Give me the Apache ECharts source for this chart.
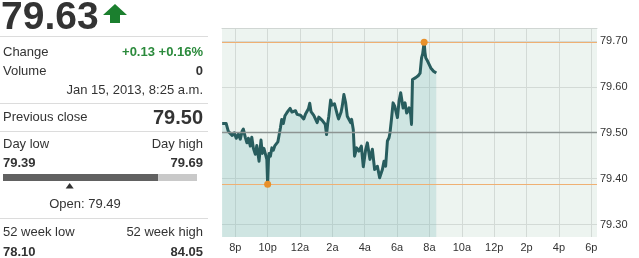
<!DOCTYPE html>
<html><head><meta charset="utf-8">
<script src="https://cdn.jsdelivr.net/npm/echarts@6/dist/echarts.min.js"></script>
<style>html,body{margin:0;padding:0;background:#fff;}#c{width:639px;height:258px;}</style>
</head><body><div id="c"></div>
<script>
// ---- data (hours since midnight Jan 14; 24 = 12a Jan 15) ----
const times = [19.19,19.44,19.50,19.57,19.69,19.81,19.94,20.06,20.19,20.31,20.42,20.50,20.62,20.72,20.81,20.93,21.02,21.12,21.24,21.33,21.47,21.59,21.67,21.77,21.86,21.95,22.00,22.05,22.09,22.17,22.26,22.35,22.45,22.54,22.63,22.73,22.79,22.87,22.97,23.07,23.18,23.28,23.39,23.50,23.61,23.72,23.82,23.93,24.03,24.13,24.23,24.34,24.44,24.52,24.60,24.68,24.75,24.85,24.96,25.06,25.16,25.27,25.37,25.47,25.56,25.64,25.71,25.78,25.89,25.97,26.05,26.13,26.20,26.30,26.38,26.46,26.54,26.61,26.71,26.82,26.92,27.02,27.13,27.19,27.29,27.37,27.50,27.64,27.79,27.91,28.05,28.16,28.32,28.47,28.61,28.78,28.92,29.09,29.19,29.29,29.40,29.50,29.56,29.65,29.75,29.85,29.91,30.02,30.12,30.22,30.37,30.49,30.59,30.74,30.84,30.89,30.95,31.05,31.15,31.30,31.42,31.51,31.58,31.63,31.67,31.72,31.77,31.88,31.98,32.08,32.19,32.25,32.33,32.42];
const prices = [79.520,79.520,79.518,79.503,79.506,79.494,79.500,79.488,79.497,79.486,79.503,79.508,79.490,79.478,79.488,79.471,79.490,79.466,79.453,79.472,79.438,79.484,79.455,79.466,79.470,79.442,79.388,79.440,79.455,79.449,79.467,79.462,79.472,79.470,79.480,79.478,79.511,79.529,79.520,79.537,79.543,79.548,79.553,79.545,79.543,79.548,79.540,79.542,79.538,79.534,79.530,79.541,79.540,79.552,79.564,79.546,79.543,79.538,79.536,79.522,79.534,79.532,79.527,79.525,79.518,79.496,79.520,79.536,79.571,79.560,79.558,79.563,79.560,79.540,79.530,79.529,79.545,79.558,79.583,79.565,79.536,79.540,79.522,79.529,79.507,79.449,79.467,79.460,79.471,79.426,79.462,79.478,79.442,79.464,79.420,79.427,79.402,79.420,79.438,79.427,79.482,79.489,79.500,79.529,79.565,79.558,79.554,79.533,79.569,79.587,79.554,79.565,79.543,79.554,79.540,79.518,79.616,79.618,79.620,79.624,79.630,79.663,79.672,79.674,79.697,79.675,79.663,79.656,79.652,79.641,79.645,79.634,79.638,79.630];
const xTickValues = [20,22,24,26,28,30,32,34,36,38,40,42];
const xTickLabels = ['8p','10p','12a','2a','4a','6a','8a','10a','12p','2p','4p','6p'];
const yTickValues = [79.30,79.40,79.50,79.60,79.70];
const xRange = [19.18, 42.35];
const yRange = [79.273, 79.728];
const prevClose = 79.50;
const lastPrice = 79.63;
const changeText = '+0.13 +0.16%';
const volume = '0';
const dateText = 'Jan 15, 2013, 8:25 a.m.';
const dayLow = 79.39, dayHigh = 79.69, openPrice = 79.49;
const wkLow = '78.10', wkHigh = '84.05';

const FONT = '"Liberation Sans", Arial, sans-serif';
const TXT = '#333333';
function txt(x, y, s, opt) {
  opt = opt || {};
  return {type:'text', x:x, y:y, silent:true, style:{
    text:s, fill:opt.fill||TXT, textAlign:opt.align||'left', textVerticalAlign:'middle',
    font:(opt.weight||'normal')+' '+(opt.size||13)+'px '+FONT}};
}
function hline(y){ return {type:'line', silent:true, shape:{x1:0,y1:y,x2:208,y2:y}, style:{stroke:'#dcdcdc', lineWidth:1}}; }

// day range bar
const barL = 3, barR = 197;
const barCur = barL + (lastPrice - dayLow) / (dayHigh - dayLow) * (barR - barL);
const openX = barL + (openPrice - dayLow) / (dayHigh - dayLow) * (barR - barL);

const graphics = [
  txt(1, 18, lastPrice.toFixed(2), {size:39, weight:'bold'}),
  {type:'polygon', silent:true, shape:{points:[[115,4],[127,15],[120,15],[120,23],[110,23],[110,15],[103,15]]}, style:{fill:'#1b7f2e'}},
  hline(36.5),
  txt(3, 52, 'Change'),
  txt(203, 52, changeText, {align:'right', fill:'#2b8a3c', weight:'bold'}),
  txt(3, 71, 'Volume'),
  txt(203, 71, volume, {align:'right', weight:'bold'}),
  txt(203, 90, dateText, {align:'right'}),
  hline(103.5),
  txt(3, 117, 'Previous close'),
  txt(203, 118, prevClose.toFixed(2), {align:'right', weight:'bold', size:20}),
  hline(131.5),
  txt(3, 144, 'Day low'),
  txt(203, 144, 'Day high', {align:'right'}),
  txt(3, 163, dayLow.toFixed(2), {weight:'bold'}),
  txt(203, 163, dayHigh.toFixed(2), {align:'right', weight:'bold'}),
  {type:'rect', silent:true, shape:{x:barL, y:174, width:barCur-barL, height:7}, style:{fill:'#616161'}},
  {type:'rect', silent:true, shape:{x:barCur, y:174, width:barR-barCur, height:7}, style:{fill:'#c9c9c9'}},
  {type:'polygon', silent:true, shape:{points:[[openX+2,183],[openX+6,188.5],[openX-2,188.5]]}, style:{fill:'#333'}},
  txt(85, 204, 'Open: ' + openPrice.toFixed(2), {align:'center'}),
  hline(218.5),
  txt(3, 232, '52 week low'),
  txt(203, 232, '52 week high', {align:'right'}),
  txt(3, 252, wkLow, {weight:'bold'}),
  txt(203, 252, wkHigh, {align:'right', weight:'bold'})
];

const chart = echarts.init(document.getElementById('c'), null, {renderer:'canvas'});
const gridColor = '#d3dad6';
const orange = '#efb073';
chart.setOption({
  animation:false,
  backgroundColor:'#ffffff',
  textStyle:{fontFamily:FONT},
  grid:{left:222, top:28, right:42, bottom:21, show:true, backgroundColor:'#edf4f0', borderWidth:0, outerBoundsMode:'none', containLabel:false},
  xAxis:[{
    type:'value', min:xRange[0], max:xRange[1],
    axisLine:{show:false}, axisTick:{show:false, customValues:xTickValues},
    splitLine:{show:true, lineStyle:{color:gridColor, width:1}},
    axisLabel:{customValues:xTickValues, formatter:v=>xTickLabels[xTickValues.indexOf(v)], color:TXT, fontSize:11, margin:5, fontFamily:FONT}
  },{
    type:'value', position:'top', min:xRange[0], max:xRange[1],
    axisLine:{show:true, lineStyle:{color:'#d0d6d3'}}, axisTick:{show:false}, axisLabel:{show:false}, splitLine:{show:false}
  }],
  yAxis:{
    type:'value', position:'right', min:yRange[0], max:yRange[1],
    axisLine:{show:false}, axisTick:{show:false, customValues:yTickValues},
    splitLine:{show:true, lineStyle:{color:gridColor, width:1}},
    axisLabel:{customValues:yTickValues, formatter:v=>v.toFixed(2), color:TXT, fontSize:11, margin:3, fontFamily:FONT}
  },
  graphic:graphics,
  series:[{
    type:'line', xAxisIndex:0,
    data:times.map((t,i)=>[t, prices[i]]),
    showSymbol:false, symbol:'none',
    lineStyle:{color:'#285d5e', width:3, join:'round'},
    areaStyle:{color:'rgba(110,182,180,0.33)', origin:'start'},
    markLine:{silent:true, symbol:['none','none'], label:{show:false}, animation:false, precision:4,
      lineStyle:{color:orange, width:1.2, type:'solid', opacity:1},
      emphasis:{disabled:true},
      data:[
        {type:'max', name:'high'},
        {type:'min', name:'low'}
      ]},
    markPoint:{silent:true, symbol:'circle', symbolSize:7, label:{show:false}, itemStyle:{color:'#e8902a'},
      data:[{type:'max'},{type:'min'}]}
  },{
    type:'line', xAxisIndex:0, data:[], silent:true,
    markLine:{silent:true, symbol:['none','none'], label:{show:false}, animation:false,
      lineStyle:{color:'#8d9492', width:1.3, type:'solid', opacity:1},
      data:[{yAxis:prevClose}]}
  }]
});
</script></body></html>
